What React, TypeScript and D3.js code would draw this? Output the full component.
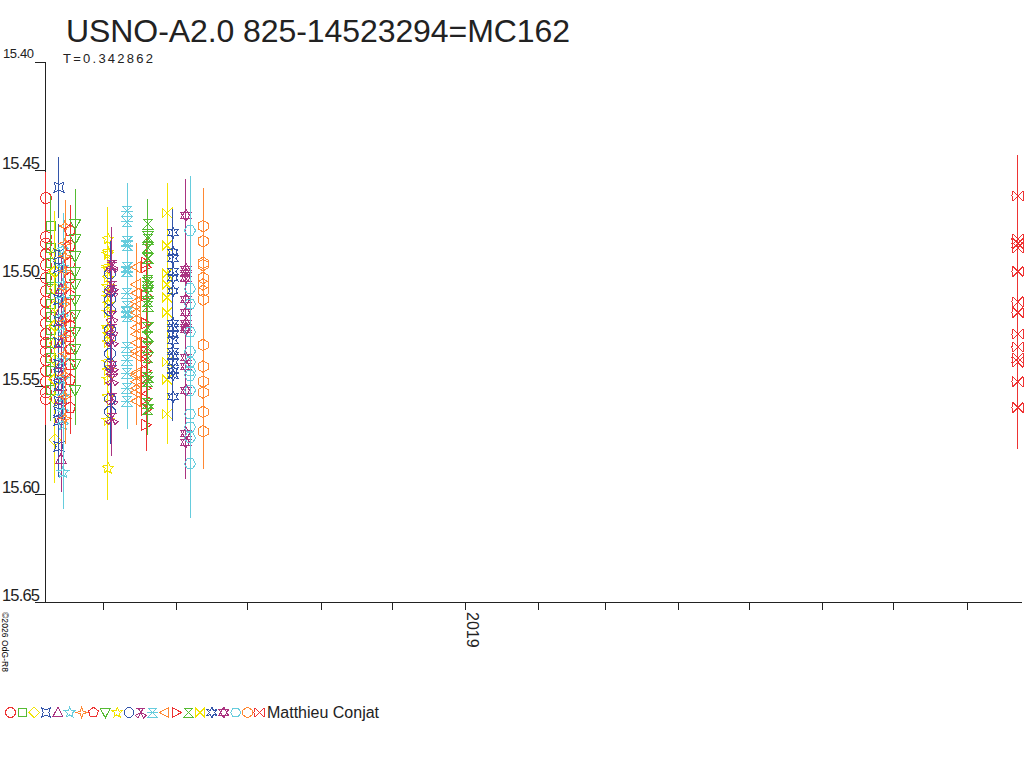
import React from 'react';
import * as d3 from 'd3';

// observing nights (UTC), one symbol per night
const nightDates = [
  '2018-07-07T22:00:00Z', '2018-07-10T00:00:00Z', '2018-07-11T17:00:00Z', '2018-07-13T10:00:00Z',
  '2018-07-14T07:00:00Z', '2018-07-15T03:00:00Z', '2018-07-16T00:00:00Z', '2018-07-18T02:00:00Z',
  '2018-07-20T05:00:00Z', '2018-08-03T02:00:00Z', '2018-08-04T00:00:00Z', '2018-08-04T19:00:00Z',
  '2018-08-11T05:00:00Z', '2018-08-15T00:00:00Z', '2018-08-19T05:00:00Z', '2018-08-20T00:00:00Z',
  '2018-08-28T02:00:00Z', '2018-08-30T14:00:00Z', '2018-09-05T02:00:00Z', '2018-09-06T19:00:00Z',
  '2018-09-12T07:00:00Z', '2019-08-22T17:00:00Z',
];

const nightErrors = [
  0.012, 0.014, 0.02, 0.014, 0.015, 0.017, 0.012, 0.012, 0.016, 0.015, 0.015,
  0.0176, 0.013, 0.011, 0.012, 0.0116, 0.014, 0.011, 0.017, 0.025, 0.0176, 0.019,
];

const nightMags = [
  [15.463, 15.481, 15.484, 15.489, 15.494, 15.5, 15.506, 15.511, 15.516, 15.521, 15.526, 15.53, 15.534, 15.538, 15.543, 15.548, 15.553, 15.556],
  [15.476, 15.486, 15.493, 15.5, 15.505, 15.512, 15.518, 15.524, 15.53, 15.537, 15.543, 15.552],
  [15.489, 15.497, 15.505, 15.513, 15.522, 15.53, 15.538, 15.547, 15.556, 15.575],
  [15.458, 15.489, 15.495, 15.51, 15.52, 15.53, 15.54, 15.545, 15.55, 15.557, 15.562, 15.566, 15.578],
  [15.505, 15.515, 15.52, 15.53, 15.54, 15.545, 15.55, 15.556, 15.565, 15.584],
  [15.487, 15.495, 15.503, 15.51, 15.518, 15.525, 15.538, 15.547, 15.555, 15.562, 15.568, 15.59],
  [15.476, 15.484, 15.49, 15.497, 15.505, 15.512, 15.52, 15.527, 15.535, 15.545, 15.555, 15.565],
  [15.478, 15.485, 15.493, 15.5, 15.508, 15.518, 15.522, 15.527, 15.533, 15.54, 15.547, 15.56],
  [15.475, 15.482, 15.49, 15.497, 15.503, 15.51, 15.517, 15.525, 15.533, 15.54, 15.552],
  [15.482, 15.488, 15.489, 15.495, 15.496, 15.5, 15.504, 15.507, 15.509, 15.512, 15.516, 15.523, 15.524, 15.526, 15.53, 15.539, 15.543, 15.547, 15.555, 15.566, 15.588],
  [15.498, 15.506, 15.51, 15.515, 15.524, 15.528, 15.535, 15.54, 15.556, 15.562],
  [15.494, 15.495, 15.504, 15.506, 15.518, 15.524, 15.529, 15.541, 15.543, 15.547, 15.556, 15.565],
  [15.469, 15.474, 15.483, 15.485, 15.495, 15.497, 15.507, 15.513, 15.516, 15.518, 15.532, 15.538, 15.544, 15.551, 15.557],
  [15.495, 15.503, 15.507, 15.511, 15.513, 15.516, 15.519, 15.523, 15.526, 15.53, 15.534, 15.536, 15.544, 15.545, 15.548, 15.551, 15.553, 15.557],
  [15.493, 15.495, 15.508, 15.521, 15.53, 15.534, 15.536, 15.539, 15.543, 15.546, 15.551, 15.556, 15.561, 15.568],
  [15.475, 15.481, 15.482, 15.486, 15.491, 15.501, 15.502, 15.504, 15.507, 15.511, 15.513, 15.523, 15.527, 15.532, 15.537, 15.546, 15.548, 15.558, 15.561],
  [15.47, 15.485, 15.498, 15.503, 15.509, 15.516, 15.539, 15.547, 15.563],
  [15.479, 15.488, 15.491, 15.497, 15.5, 15.506, 15.521, 15.523, 15.526, 15.529, 15.534, 15.536, 15.539, 15.543, 15.545, 15.555],
  [15.471, 15.496, 15.498, 15.5, 15.51, 15.516, 15.521, 15.523, 15.524, 15.537, 15.541, 15.552, 15.572, 15.576],
  [15.478, 15.505, 15.512, 15.525, 15.534, 15.539, 15.543, 15.545, 15.552, 15.563, 15.569, 15.574, 15.586],
  [15.476, 15.483, 15.493, 15.494, 15.5, 15.503, 15.506, 15.51, 15.531, 15.541, 15.548, 15.553, 15.562, 15.571],
  [15.462, 15.482, 15.484, 15.486, 15.497, 15.511, 15.516, 15.526, 15.532, 15.537, 15.539, 15.548, 15.56],
];

const palette = ['#ee3333', '#55bb33', '#f2e400', '#3355aa', '#aa3380', '#66ccdd', '#ff8833'];
const yTicks = [15.4, 15.45, 15.5, 15.55, 15.6, 15.65];
const timeDomain = ['2018-07-07T12:00:00Z', '2019-08-24T10:00:00Z'];

const title = 'USNO-A2.0 825-14523294=MC162';
const period = 'T=0.342862';
const observer = 'Matthieu Conjat';
const credit = '\u00a92026 OdG-R8';

const font = '"Liberation Sans", Arial, sans-serif';

const poly = (n: number, r: number, rot: number) => {
  const pts = d3.range(n).map((k) => {
    const a = rot + (k * 2 * Math.PI) / n;
    return `${(r * Math.cos(a)).toFixed(2)},${(r * Math.sin(a)).toFixed(2)}`;
  });
  return `M${pts.join('L')}Z`;
};

const star = (n: number, ro: number, ri: number, rot: number, skew = 0) => {
  const pts: string[] = [];
  for (let k = 0; k < n; k++) {
    const a = rot + (k * 2 * Math.PI) / n;
    const b = a + Math.PI / n + skew;
    pts.push(`${(ro * Math.cos(a)).toFixed(2)},${(ro * Math.sin(a)).toFixed(2)}`);
    pts.push(`${(ri * Math.cos(b)).toFixed(2)},${(ri * Math.sin(b)).toFixed(2)}`);
  }
  return `M${pts.join('L')}Z`;
};

const up = -Math.PI / 2;

function symbolPath(i: number): string {
  switch (i) {
    case 0: return 'M5.5,0A5.5,5.5 0 1 1 -5.5,0A5.5,5.5 0 1 1 5.5,0Z';
    case 1: return 'M-4.5,-4.5H4.5V4.5H-4.5Z';
    case 2: return 'M0,-6L6,0L0,6L-6,0Z';
    case 3: return 'M-5,-5L0,-3L5,-5L3,0L5,5L0,3L-5,5L-3,0Z';
    case 4: return 'M0,-6L5.5,4.5L-5.5,4.5Z';
    case 5: return star(5, 6, 2.6, up);
    case 6: return star(4, 6, 2.2, up);
    case 7: return poly(5, 5.8, up);
    case 8: return 'M0,6L5.5,-4.5L-5.5,-4.5Z';
    case 9: return star(5, 6, 2.8, up, 0.35);
    case 10: return poly(8, 5.6, Math.PI / 8);
    case 11: return 'M-5,-5H5M-3,-5L0,0L3,-5M0,0L-6,3L-3,6ZM0,0L6,3L3,6Z';
    case 12: return 'M-5,-5H5L0,0ZM-5,5H5L0,0ZM-6,0H6';
    case 13: return 'M-5.5,0L4.5,-5.5L4.5,5.5Z';
    case 14: return 'M5.5,0L-4.5,-5.5L-4.5,5.5Z';
    case 15: return 'M-5,-5L5,-5L-5,5L5,5Z';
    case 16: return 'M-5,-5L-5,5L5,-5L5,5Z';
    case 17: return star(6, 6, 3, up);
    case 18: return `${poly(3, 6, up)}${poly(3, 6, Math.PI / 2)}`;
    case 19: return poly(6, 5.6, 0);
    case 20: return poly(6, 5.8, up);
    default: return 'M-5,-5L5,5Q7,0 5,-5L-5,5Q-7,0 -5,-5Z';
  }
}

export default function App() {
  const x = d3.scaleUtc().domain(timeDomain.map((d) => new Date(d))).range([45, 1022]);
  const y = d3.scaleLinear().domain([15.4, 15.65]).range([62, 602]);
  const months = d3.utcMonth.range(x.domain()[0], x.domain()[1]);
  const crisp = { shapeRendering: 'crispEdges' as const };

  return (
    <svg width={1024} height={768} style={{ position: 'absolute', left: 0, top: 0, display: 'block', background: '#fff' }} fontFamily={font}>
      <text x={66} y={42} fontSize={32} fill="#222" textLength={504} lengthAdjust="spacing">{title}</text>
      <text x={63} y={63} fontSize={13} fill="#222" textLength={90} lengthAdjust="spacing">{period}</text>

      {/* axes */}
      <g stroke="#222" strokeWidth={1} {...crisp}>
        <line x1={45.5} x2={45.5} y1={62} y2={602} />
        <line x1={45} x2={1022} y1={602.5} y2={602.5} />
        {yTicks.map((t) => (
          <line key={t} x1={35} x2={45.5} y1={Math.round(y(t)) + 0.5} y2={Math.round(y(t)) + 0.5} />
        ))}
        {months.map((m) => (
          <line key={+m} x1={Math.round(x(m)) + 0.5} x2={Math.round(x(m)) + 0.5} y1={602} y2={610} />
        ))}
      </g>
      {yTicks.map((t, i) => (
        <text key={t} x={i === 0 ? 3 : 2} y={y(t) - (i === 0 ? 4 : 1.5)} fontSize={i === 0 ? 13 : 16.5}
          fill="#222" textLength={i === 0 ? 31 : 38} lengthAdjust="spacing">
          {d3.format('.2f')(t)}
        </text>
      ))}
      {months.filter((m) => m.getUTCMonth() === 0).map((m) => (
        <text key={+m} transform={`translate(${Math.round(x(m)) + 2},612) rotate(90)`} fontSize={16} fill="#222">
          {d3.utcFormat('%Y')(m)}
        </text>
      ))}
      <text transform="translate(2,612) rotate(90)" fontSize={8.5} fill="#000" textLength={60} lengthAdjust="spacing">{credit}</text>

      {/* measurements */}
      {nightMags.map((mags, i) => {
        const cx = x(new Date(nightDates[i]));
        const color = palette[i % palette.length];
        const err = nightErrors[i];
        return (
          <g key={i} stroke={color} fill="none" strokeWidth={1} {...crisp}>
            {mags.map((m, j) => (
              <line key={`e${j}`} x1={cx} x2={cx} y1={y(m - err)} y2={y(m + err)} />
            ))}
            {mags.map((m, j) => (
              <path key={`s${j}`} d={symbolPath(i)} transform={`translate(${cx},${y(m)})`} />
            ))}
          </g>
        );
      })}

      {/* legend */}
      <g fill="none" strokeWidth={1} {...crisp}>
        {nightDates.map((_, i) => (
          <path key={i} d={symbolPath(i)} stroke={palette[i % palette.length]} vectorEffect="non-scaling-stroke"
            transform={`translate(${10.5 + i * 11.85},712.5) scale(0.9)`} />
        ))}
      </g>
      <text x={267} y={718} fontSize={16} fill="#222">{observer}</text>
    </svg>
  );
}
